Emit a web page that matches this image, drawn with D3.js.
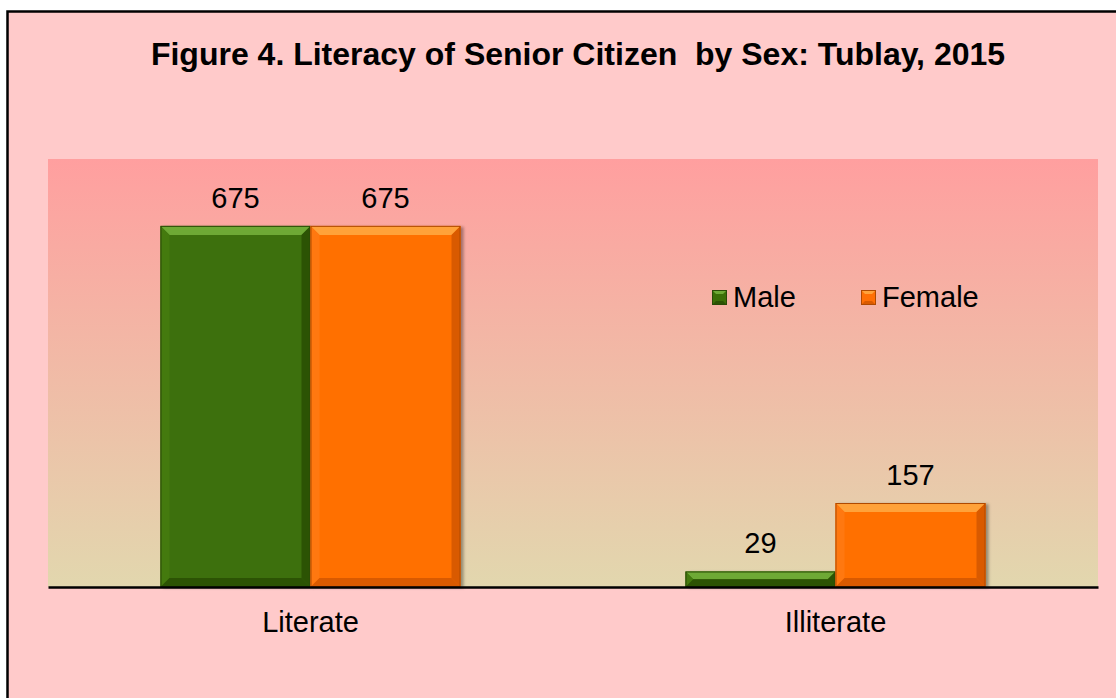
<!DOCTYPE html>
<html>
<head>
<meta charset="utf-8">
<script src="https://cdn.jsdelivr.net/npm/d3@7"></script>
<style>
  body { margin: 0; background: #fff; }
  text { font-family: "Liberation Sans", Arial, sans-serif; }
</style>
</head>
<body>
<svg width="1116" height="698"></svg>
<script>
const categories = ["Literate", "Illiterate"];
const seriesNames = ["Male", "Female"];
const male = [675, 29];
const female = [675, 157];
const yTicks = [0, 800];
const title = "Figure 4. Literacy of Senior Citizen  by Sex: Tublay, 2015";

const colors = {
  Male: { base: "#3c6f07", light: "#6ea935", side: "#447a0e", dark: "#2c5304", line: "#2a4a06" },
  Female: { base: "#ff6f05", light: "#ffa23a", side: "#ff7810", dark: "#d95a00", line: "#b04a00" }
};

const svg = d3.select("svg");

// outer frame
svg.append("rect")
  .attr("x", 7.5).attr("y", 11.5)
  .attr("width", 1130).attr("height", 700)
  .attr("fill", "#ffcaca")
  .attr("stroke", "#000").attr("stroke-width", 2.5);

svg.append("text")
  .attr("x", 578).attr("y", 65)
  .attr("text-anchor", "middle")
  .attr("font-size", 32).attr("font-weight", "bold")
  .style("white-space", "pre")
  .text(title);

const plot = { left: 48, right: 1098, top: 159, bottom: 587 };

const defs = svg.append("defs");
const grad = defs.append("linearGradient").attr("id", "bg")
  .attr("x1", 0).attr("y1", 0).attr("x2", 0).attr("y2", 1);
grad.append("stop").attr("offset", 0).attr("stop-color", "#ff9f9f");
grad.append("stop").attr("offset", 1).attr("stop-color", "#e2d7ae");

const shadow = defs.append("filter").attr("id", "shadow")
  .attr("x", "-10%").attr("y", "-10%").attr("width", "130%").attr("height", "130%");
shadow.append("feDropShadow").attr("dx", 3).attr("dy", 1).attr("stdDeviation", 1.5)
  .attr("flood-color", "#000").attr("flood-opacity", 0.35);

svg.append("rect")
  .attr("x", plot.left).attr("y", plot.top)
  .attr("width", plot.right - plot.left).attr("height", plot.bottom - plot.top)
  .attr("fill", "url(#bg)");

const x0 = d3.scaleBand().domain(categories).range([plot.left, plot.right]);
const x1 = d3.scaleBand().domain(seriesNames).range([0, 300]);
const y = d3.scaleLinear().domain(d3.extent(yTicks)).range([plot.bottom, plot.top]);

const data = [];
categories.forEach((c, i) => {
  data.push({ cat: c, s: "Male", v: male[i] });
  data.push({ cat: c, s: "Female", v: female[i] });
});

const bars = svg.append("g").selectAll("g.bar").data(data).enter()
  .append("g").attr("class", "bar");

bars.each(function (d) {
  const g = d3.select(this);
  const c = colors[d.s];
  const gx = x0(d.cat) + (x0.bandwidth() - 300) / 2 + x1(d.s);
  const w = x1.bandwidth();
  const top = y(d.v), bot = y(0);
  const h = bot - top;
  const b = Math.min(9, h / 2);
  g.append("rect").attr("x", gx).attr("y", top).attr("width", w).attr("height", h)
    .attr("fill", c.base).attr("filter", "url(#shadow)");
  // bevel faces
  const face = (pts, fill) => g.append("polygon")
    .attr("points", pts.map(p => p.join(",")).join(" ")).attr("fill", fill);
  face([[gx, top], [gx + w, top], [gx + w - b, top + b], [gx + b, top + b]], c.light);
  face([[gx, top], [gx + b, top + b], [gx + b, bot - b], [gx, bot]], c.side);
  face([[gx + w, top], [gx + w, bot], [gx + w - b, bot - b], [gx + w - b, top + b]], c.dark);
  face([[gx, bot], [gx + b, bot - b], [gx + w - b, bot - b], [gx + w, bot]], c.dark);
  g.append("rect").attr("x", gx + 0.5).attr("y", top + 0.5).attr("width", w - 1).attr("height", h - 1)
    .attr("fill", "none").attr("stroke", c.line).attr("stroke-width", 1);
  g.append("text")
    .attr("x", gx + w / 2).attr("y", top - 18)
    .attr("text-anchor", "middle").attr("font-size", 29)
    .text(d.v);
});

// axis line and category labels
const xAxis = d3.axisBottom(x0).tickSize(0).tickPadding(24);
const ax = svg.append("g").attr("transform", `translate(0,${plot.bottom})`).call(xAxis);
ax.select(".domain").attr("stroke", "#000").attr("stroke-width", 2.5);
ax.selectAll("text").attr("font-size", 29).attr("fill", "#000")
  .attr("font-family", "Liberation Sans, Arial, sans-serif");

// legend
const legend = svg.append("g");
const lx = [712, 861];
seriesNames.forEach((s, i) => {
  const c = colors[s];
  const g = legend.append("g").attr("transform", `translate(${lx[i]},290)`);
  const sz = 15, b = 4;
  g.append("rect").attr("width", sz).attr("height", sz).attr("fill", c.base);
  g.append("polygon").attr("points", `0,0 ${sz},0 ${sz - b},${b} ${b},${b}`).attr("fill", c.light);
  g.append("polygon").attr("points", `0,${sz} ${b},${sz - b} ${sz - b},${sz - b} ${sz},${sz}`).attr("fill", c.dark);
  g.append("rect").attr("x", 0.5).attr("y", 0.5).attr("width", sz - 1).attr("height", sz - 1)
    .attr("fill", "none").attr("stroke", c.line);
  g.append("text").attr("x", 21).attr("y", 16.5).attr("font-size", 29).text(s);
});
</script>
</body>
</html>
